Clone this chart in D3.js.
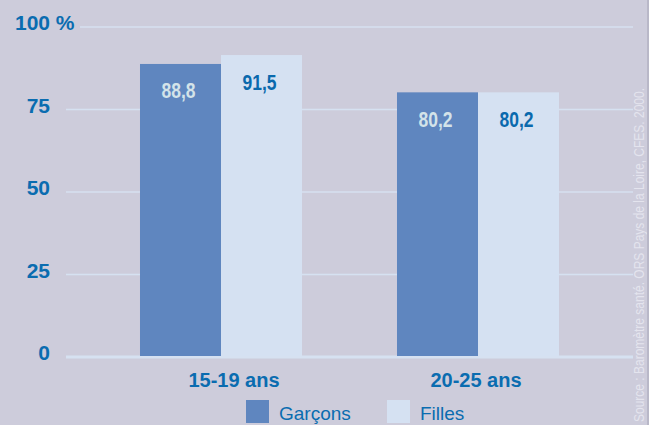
<!DOCTYPE html>
<html><head><meta charset="utf-8">
<script src="https://cdn.jsdelivr.net/npm/d3@7"></script>
<style>html,body{margin:0;padding:0;background:#cdccdb;overflow:hidden}</style>
</head><body>
<script>
const categories = ["15-19 ans", "20-25 ans"];
const series = ["Garçons", "Filles"];
const garcons = [88.8, 80.2];
const filles = [91.5, 80.2];
const tickValues = [0, 25, 50, 75, 100];
const tickLabels = ["0", "25", "50", "75", "100"];
const sourceText = "Source : Baromètre santé. ORS Pays de la Loire, CFES. 2000.";

const W = 649, H = 425;
const colors = {"Garçons": "#5f86bf", "Filles": "#d5e1f2"};
const valueColors = {"Garçons": "#d3e3e9", "Filles": "#0a69ad"};
const blue = "#0a6cb0";
const sans = "'Liberation Sans',Arial,sans-serif";

const svg = d3.select("body").append("svg").attr("width", W).attr("height", H)
  .style("display", "block");
svg.append("rect").attr("width", W).attr("height", H).attr("fill", "#cdccdb");

const y = d3.scaleLinear().domain([0, 100]).range([357, 27]);
const x0 = d3.scaleBand().domain(categories).range([92.5, 606.5])
  .paddingInner(0.3696).paddingOuter(0.1848);
const x1 = d3.scaleBand().domain(series).range([0, x0.bandwidth()]);

// gridlines
svg.append("g").selectAll("line").data(tickValues).join("line")
  .attr("x1", d => d === 100 ? 80 : 66).attr("x2", 633)
  .attr("y1", d => y(d)).attr("y2", d => y(d))
  .attr("stroke", "#d6e1f1")
  .attr("stroke-width", d => d === 0 ? 3 : 1.7);

// tick labels
const ticks = svg.append("g");
ticks.selectAll("text").data(tickValues).join("text")
  .attr("x", 50).attr("y", d => y(d) + 3)
  .attr("text-anchor", "end")
  .attr("font-family", sans).attr("font-weight", "bold").attr("font-size", 21)
  .attr("fill", blue)
  .text((d, i) => tickLabels[i]);
ticks.append("text").attr("x", 50).attr("y", y(100) + 3)
  .attr("font-family", sans).attr("font-weight", "bold").attr("font-size", 21)
  .attr("fill", blue).text("\u00a0%");

// bars
const rows = categories.map((c, i) => ({cat: c, vals: [
  {s: "Garçons", v: garcons[i]}, {s: "Filles", v: filles[i]}]}));
const groups = svg.append("g").selectAll("g").data(rows).join("g")
  .attr("transform", d => `translate(${x0(d.cat)},0)`);
groups.selectAll("rect").data(d => d.vals).join("rect")
  .attr("x", d => x1(d.s)).attr("width", x1.bandwidth())
  .attr("y", d => y(d.v)).attr("height", d => y(0) - y(d.v) - 1)
  .attr("fill", d => colors[d.s]);
groups.selectAll("text").data(d => d.vals).join("text")
  .attr("x", d => x1(d.s) + x1.bandwidth() / 2 - 2)
  .attr("y", d => y(d.v) + 34.5)
  .attr("text-anchor", "middle")
  .attr("font-family", sans).attr("font-weight", "bold").attr("font-size", 22)
  .attr("textLength", 34).attr("lengthAdjust", "spacingAndGlyphs")
  .attr("fill", d => valueColors[d.s])
  .text(d => d3.format(".1f")(d.v).replace(".", ","));

// category labels
const catOffset = [13, -2];
svg.append("g").selectAll("text").data(categories).join("text")
  .attr("x", (d, i) => x0(d) + x0.bandwidth() / 2 + catOffset[i])
  .attr("y", 387)
  .attr("text-anchor", "middle")
  .attr("font-family", sans).attr("font-weight", "bold").attr("font-size", 20)
  .attr("fill", blue).text(d => d);

// legend
const legendX = [246, 387];
const lg = svg.append("g").selectAll("g").data(series).join("g")
  .attr("transform", (d, i) => `translate(${legendX[i]},400)`);
lg.append("rect").attr("width", 23).attr("height", 23).attr("fill", d => colors[d]);
lg.append("text").attr("x", 33).attr("y", 20)
  .attr("font-family", sans).attr("font-size", 19).attr("fill", blue).text(d => d);

// source (vertical)
svg.append("text")
  .attr("transform", "translate(644,422) rotate(-90)")
  .attr("text-anchor", "start")
  .attr("font-family", sans).attr("font-size", 14)
  .attr("textLength", 334).attr("lengthAdjust", "spacingAndGlyphs")
  .attr("fill", "#e4e4ee").text(sourceText);

// right edge
svg.append("rect").attr("x", W - 2).attr("y", 0).attr("width", 2).attr("height", H).attr("fill", "#b9b8c8");
</script>
</body></html>
